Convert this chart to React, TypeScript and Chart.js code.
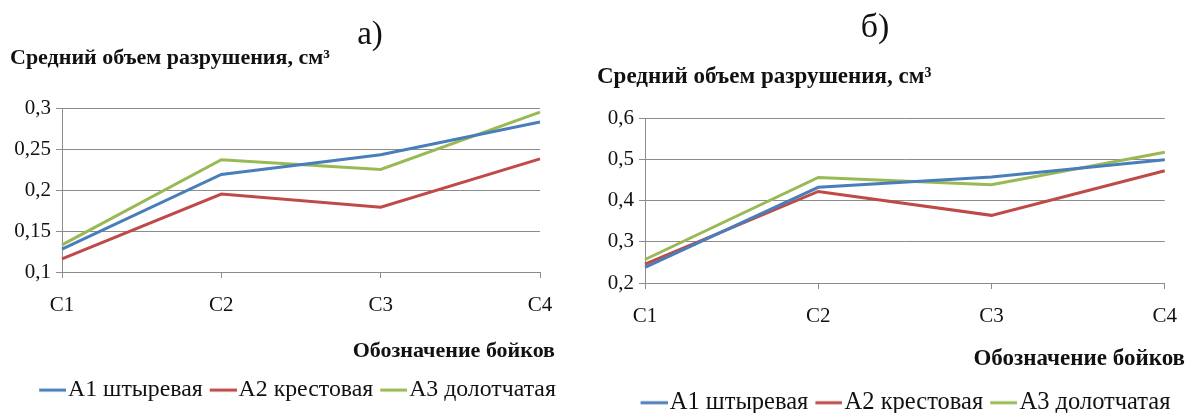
import React, { useEffect, useRef } from "react";
import { Chart, registerables } from "chart.js";
Chart.register(...registerables);

const categories = ["C1", "C2", "C3", "C4"];
const seriesNames = ["А1 штыревая", "А2 крестовая", "А3 долотчатая"];
const seriesColors = ["#4A7EBB", "#BE4B48", "#98B954"];

// chart a)
const aA1 = [0.128, 0.219, 0.243, 0.283];
const aA2 = [0.116, 0.195, 0.179, 0.238];
const aA3 = [0.133, 0.237, 0.225, 0.295];
const aTicks = [0.1, 0.15, 0.2, 0.25, 0.3];

// chart б)
const bA1 = [0.238, 0.432, 0.457, 0.499];
const bA2 = [0.246, 0.422, 0.364, 0.472];
const bA3 = [0.257, 0.456, 0.438, 0.517];
const bTicks = [0.2, 0.3, 0.4, 0.5, 0.6];

const panelLabels = ["а)", "б)"];
const yTitle = "Средний объем разрушения, см³";
const xTitle = "Обозначение бойков";

const SERIF = "'Liberation Serif', 'Times New Roman', serif";

type Area = { left: number; right: number; top: number; bottom: number };

function makeLineSwatch(color: string, lineLen: number, boxW: number, gap: number): HTMLCanvasElement {
  // swatch image drawn so that the line starts at the item start and ends close to the text
  const c = document.createElement("canvas");
  const iw = boxW + 2 * gap;
  c.width = iw;
  c.height = 6;
  const ctx = c.getContext("2d")!;
  ctx.strokeStyle = color;
  ctx.lineWidth = 3;
  ctx.beginPath();
  ctx.moveTo(iw - lineLen, 3);
  ctx.lineTo(iw, 3);
  ctx.stroke();
  return c;
}

function LineChart(props: {
  width: number;
  height: number;
  series: number[][];
  ticks: number[];
  area: Area;
  padBottom: number;
  padLeft: number;
  tickFont: number;
  legendFont: number;
  legendShift: number;
}) {
  const ref = useRef<HTMLCanvasElement | null>(null);
  useEffect(() => {
    if (!ref.current) return;
    const { width, height, series, ticks, area, padBottom, padLeft, tickFont, legendFont, legendShift } = props;
    const boxW = 18;
    const textGap = Math.round(legendFont / 2) - 2;
    const swatches = seriesColors.map((c) => makeLineSwatch(c, 27, boxW, textGap));
    const chart = new Chart(ref.current, {
      type: "line",
      data: {
        labels: categories,
        datasets: series.map((d, i) => ({
          label: seriesNames[i],
          data: d,
          borderColor: seriesColors[i],
          backgroundColor: seriesColors[i],
          borderWidth: 3,
          pointRadius: 0,
          tension: 0,
          fill: false,
        })),
      },
      plugins: [
        {
          id: "shiftLegend",
          afterLayout: (ch: any) => {
            const lg = ch.legend;
            if (lg) {
              lg.left += legendShift;
              lg.right += legendShift;
            }
          },
        },
      ],
      options: {
        animation: false,
        responsive: false,
        devicePixelRatio: 1,
        layout: {
          padding: {
            left: padLeft,
            right: width - area.right,
            top: area.top,
            bottom: padBottom,
          },
        },
        plugins: {
          tooltip: { enabled: false },
          title: { display: false },
          legend: {
            display: true,
            position: "bottom",
            labels: {
              usePointStyle: true,
              pointStyleWidth: boxW,
              padding: 6,
              color: "#111",
              font: { family: SERIF, size: legendFont },
              generateLabels: (ch: any) => {
                const items = (Chart as any).defaults.plugins.legend.labels.generateLabels(ch);
                return items.map((it: any, i: number) => ({ ...it, pointStyle: swatches[i], rotation: 0 }));
              },
            },
          },
        },
        scales: {
          x: {
            type: "category",
            offset: false,
            grid: {
              display: true,
              drawOnChartArea: false,
              drawTicks: true,
              tickLength: 6,
              color: "#8c8c8c",
            },
            border: { display: true, color: "#8c8c8c", width: 1 },
            ticks: {
              color: "#111",
              padding: 15,
              maxRotation: 0,
              font: { family: SERIF, size: tickFont },
            },
            afterFit: (scale: any) => {
              const lg = scale.chart.legend;
              const lh = lg ? lg.height : 0;
              scale.height = height - padBottom - lh - area.bottom;
            },
          },
          y: {
            type: "linear",
            min: ticks[0],
            max: ticks[ticks.length - 1],
            afterBuildTicks: (scale: any) => {
              scale.ticks = ticks.map((v) => ({ value: v }));
            },
            grid: {
              display: true,
              drawOnChartArea: true,
              drawTicks: true,
              tickLength: 6,
              color: "#8c8c8c",
            },
            border: { display: true, color: "#8c8c8c", width: 1 },
            ticks: {
              color: "#111",
              padding: 5,
              font: { family: SERIF, size: tickFont },
              callback: (v: any) => String(Number(v)).replace(".", ","),
            },
            afterFit: (scale: any) => {
              scale.width = area.left - padLeft;
            },
          },
        },
      },
    });
    return () => chart.destroy();
  }, []);
  return <canvas ref={ref} width={props.width} height={props.height} style={{ display: "block", width: props.width, height: props.height }} />;
}

const textBase: React.CSSProperties = {
  position: "absolute",
  fontFamily: SERIF,
  color: "#111",
  whiteSpace: "nowrap",
  lineHeight: 1,
};

export default function App() {
  return (
    <div style={{ position: "absolute", left: 0, top: 0, width: 1192, height: 413, background: "#fff", overflow: "hidden" }}>
      <div style={{ position: "absolute", left: 0, top: 0 }}>
        <LineChart
          width={596}
          height={414}
          series={[aA1, aA2, aA3]}
          ticks={aTicks}
          area={{ left: 62, right: 540, top: 108, bottom: 272 }}
          padBottom={2}
          padLeft={4}
          tickFont={21}
          legendFont={23.8}
          legendShift={25}
        />
      </div>
      <div style={{ position: "absolute", left: 596, top: 0 }}>
        <LineChart
          width={596}
          height={427}
          series={[bA1, bA2, bA3]}
          ticks={bTicks}
          area={{ left: 49, right: 576, top: 118, bottom: 283 }}
          padBottom={2}
          padLeft={2}
          tickFont={21}
          legendFont={24.5}
          legendShift={20}
        />
      </div>
      <div style={{ ...textBase, left: 370, top: 33, transform: "translate(-50%, -50%)", fontSize: 33 }}>{panelLabels[0]}</div>
      <div style={{ ...textBase, left: 875, top: 26, transform: "translate(-50%, -50%)", fontSize: 34 }}>{panelLabels[1]}</div>
      <div style={{ ...textBase, left: 10, top: 57, transform: "translateY(-50%)", fontSize: 22, fontWeight: "bold" }}>{yTitle}</div>
      <div style={{ ...textBase, left: 597, top: 75, transform: "translateY(-50%)", fontSize: 23, fontWeight: "bold" }}>{yTitle}</div>
      <div style={{ ...textBase, right: 1192 - 555, top: 350, transform: "translateY(-50%)", fontSize: 22, fontWeight: "bold" }}>{xTitle}</div>
      <div style={{ ...textBase, right: 1192 - 1185, top: 357, transform: "translateY(-50%)", fontSize: 23, fontWeight: "bold" }}>{xTitle}</div>
    </div>
  );
}
